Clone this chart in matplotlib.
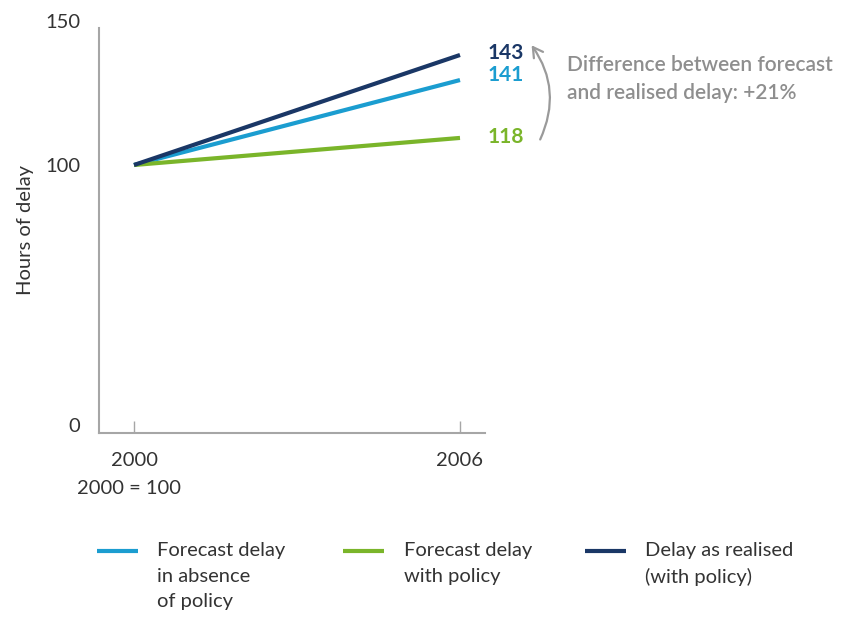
import numpy as np
import matplotlib
matplotlib.use("Agg")
import matplotlib.pyplot as plt
from matplotlib.lines import Line2D

plt.rcParams['font.family'] = ['Lato', 'DejaVu Sans']

years = [2000, 2006]
# end points (labels give the published figures)
forecast_no_policy = [100, 129.5]
forecast_policy = [100, 109.4]
realised = [100, 138.2]
end_labels = ["143", "141", "118"]

series_names = ["Forecast delay\nin absence\nof policy",
                "Forecast delay\nwith policy",
                "Delay as realised\n(with policy)"]
cyan = "#1b9dd0"
green = "#7ab52a"
navy = "#1a3766"
grey = "#a6a6a6"
txt = "#333333"

# the original axis is stretched above 100
K = 1.1077


def fwd(v):
    v = np.asarray(v, dtype=float)
    return np.where(v <= 100, v, 100 + (v - 100) * K)


def inv(t):
    t = np.asarray(t, dtype=float)
    return np.where(t <= 100, t, 100 + (t - 100) / K)


fig = plt.figure(figsize=(8.47, 6.22), dpi=100)
ax = fig.add_axes([99 / 847, 1 - 433 / 622, 386 / 847, 412 / 622])
ax.set_yscale('function', functions=(fwd, inv))

ax.plot(years, forecast_no_policy, color=cyan, lw=3, solid_capstyle='butt')
ax.plot(years, forecast_policy, color=green, lw=3, solid_capstyle='butt')
ax.plot(years, realised, color=navy, lw=3, solid_capstyle='butt')

ax.set_xlim(2000 - 35 / 54.33, 2006 + 25 / 54.33)
ax.set_ylim(-3.08, 150)

for s in ['top', 'right']:
    ax.spines[s].set_visible(False)
for s in ['left', 'bottom']:
    ax.spines[s].set_color(grey)
    ax.spines[s].set_linewidth(1.5)
ax.spines['left'].set_bounds(-3.08, 147.6)

ax.set_yticks([0, 100, 150])
ax.tick_params(axis='y', length=0, pad=13.5, labelsize=14.5, labelcolor=txt)
ax.set_xticks(years)
ax.tick_params(axis='x', direction='in', length=8.5, width=1, color=grey,
               pad=14, labelsize=14.5, labelcolor=txt)

ax.set_ylabel("Hours of delay", fontsize=14.5, color=txt)
ax.yaxis.set_label_coords(-65 / 386, (433 - 230) / 412)

fig.text(129 / 847, 1 - 489 / 622, "2000 = 100", ha='center', va='center',
         fontsize=14.5, color=txt)

# end labels
offsets = [(20, 1.5), (20, 3.5), (20, 0.8)]
ends = [realised[1], forecast_no_policy[1], forecast_policy[1]]
cols = [navy, cyan, green]
for lab, yv, c, off in zip(end_labels, ends, cols, offsets):
    ax.annotate(lab, (years[1], yv), xytext=off, textcoords='offset points',
                ha='left', va='center', fontsize=15, fontweight='bold',
                color=c, annotation_clip=False)

# curved arrow and note
ax.annotate("", xy=(530, 622 - 43), xycoords='figure pixels',
            xytext=(539, 622 - 142), textcoords='figure pixels',
            arrowprops=dict(arrowstyle='->,head_length=0.7,head_width=0.4',
                            color="#9a9a9a", lw=1.6,
                            connectionstyle='arc3,rad=0.3'))
fig.text(567 / 847, 1 - 79 / 622,
         "Difference between forecast\nand realised delay: +21%",
         ha='left', va='center', fontsize=15, fontweight='semibold',
         color="#8e8e8e", linespacing=1.45)

# legend
leg_x = [(97, 138, 157), (343, 384, 404), (585, 626, 645)]
for (x0, x1, xt), name, c in zip(leg_x, series_names, [cyan, green, navy]):
    fig.add_artist(Line2D([x0 / 847, x1 / 847], [1 - 551 / 622] * 2,
                          transform=fig.transFigure, color=c, lw=3,
                          solid_capstyle='butt'))
    fig.text(xt / 847, 1 - 542 / 622, name, ha='left', va='top',
             fontsize=14.5, color=txt, linespacing=1.62)

fig.savefig("out.png", dpi=100)
